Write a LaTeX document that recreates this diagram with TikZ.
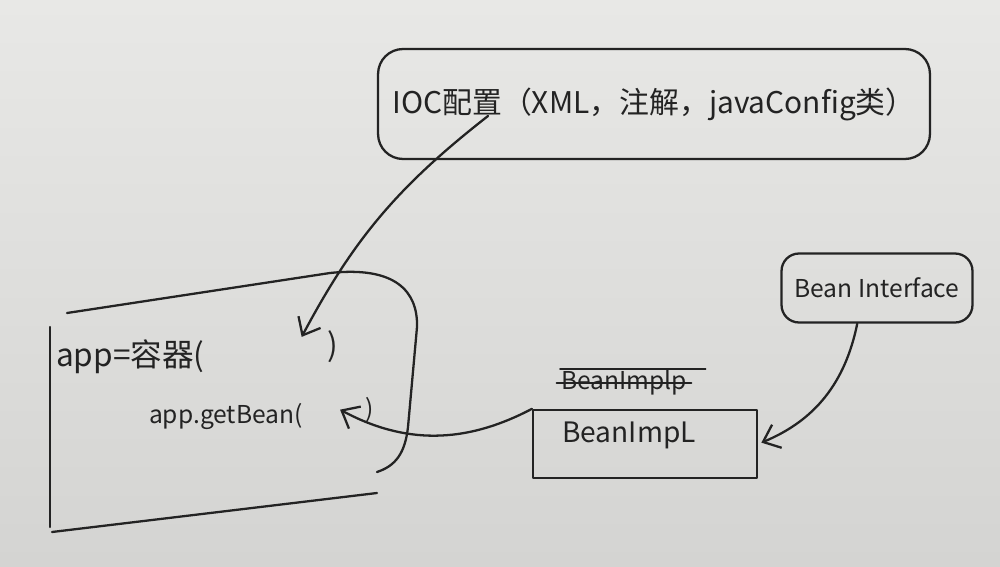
\documentclass[tikz,border=0pt]{standalone}
\usepackage{fontspec}
\setmainfont{Noto Sans CJK SC}
\usetikzlibrary{arrows.meta}
\definecolor{paper}{RGB}{232,232,230}
\definecolor{paperdark}{RGB}{212,212,210}
\definecolor{ink}{RGB}{35,35,35}

\begin{document}
\begin{tikzpicture}
        [x=0.02cm, y=0.02cm, line width=1.3pt, line cap=round, line join=round, draw=ink,
         every node/.style={text=ink, inner sep=0pt},
         every label/.style={text=ink, inner sep=0pt},
         boxed/.style={draw=ink, rounded corners=#1},
         boxed/.default=0pt,
         sketch/.style={draw=ink, -{Straight Barb[length=3mm, width=5mm]}}]
        \shade[top color=paper, bottom color=paperdark] (0,0) rectangle (1000,566);
        \useasboundingbox (0,0) rectangle (1000,566);

        % configuration
        \node[boxed=0.5cm, minimum width=11.04cm, minimum height=2.2cm] (ioc) at (654,462)
            {\fontsize{17}{20}\selectfont IOC配置（XML，注解，javaConfig类）};
        \coordinate (iocout) at (488,450);

        % container
        \draw (50,239) -- (50,39);
        \draw (52,34) -- (377,73);
        \draw (67,253) -- (330,293) .. controls (395,300) and (418,275) .. (417,239)
            -- (408,139) .. controls (405,112) and (395,100) .. (377,94);
        \node[anchor=west] (ctor) at (55,209) {\fontsize{18}{21}\selectfont app=容器(};
        \node (ctorend) at (333,219) {\fontsize{18}{21}\selectfont )};
        \coordinate (ctorarg) at (300,226);
        \node[anchor=west] (get) at (148,149) {\fontsize{14}{17}\selectfont app.getBean(};
        \node (getend) at (370,156) {\fontsize{14}{17}\selectfont )};
        \coordinate (getarg) at (337,158);

        % implementation
        \node (oldimpl) at (624,183) {\fontsize{14}{17}\selectfont BeanImplp};
        \draw[line width=1pt] ([xshift=-2pt]oldimpl.west) -- ([xshift=2pt]oldimpl.east);
        \draw[line width=1pt] (oldimpl.north west) -- ([xshift=10pt]oldimpl.north east);
        \node[boxed, minimum width=4.48cm, minimum height=1.36cm,
              label={[shift={(-0.32cm,0.18cm)}]center:\fontsize{16}{19}\selectfont BeanImpL}]
            (impl) at (645,122) {};

        % interface
        \node[boxed=0.35cm, minimum width=3.82cm, minimum height=1.38cm] (iface) at (877,278)
            {\fontsize{14}{17}\selectfont Bean Interface};

        \foreach \from/\to/\amt in {iocout/ctorarg/-12, impl.north west/getarg/28, iface.-119/impl.east/28}
        \draw[sketch, shorten >=2pt] (\from) to[bend left=\amt] (\to);
    \end{tikzpicture}
\end{document}
